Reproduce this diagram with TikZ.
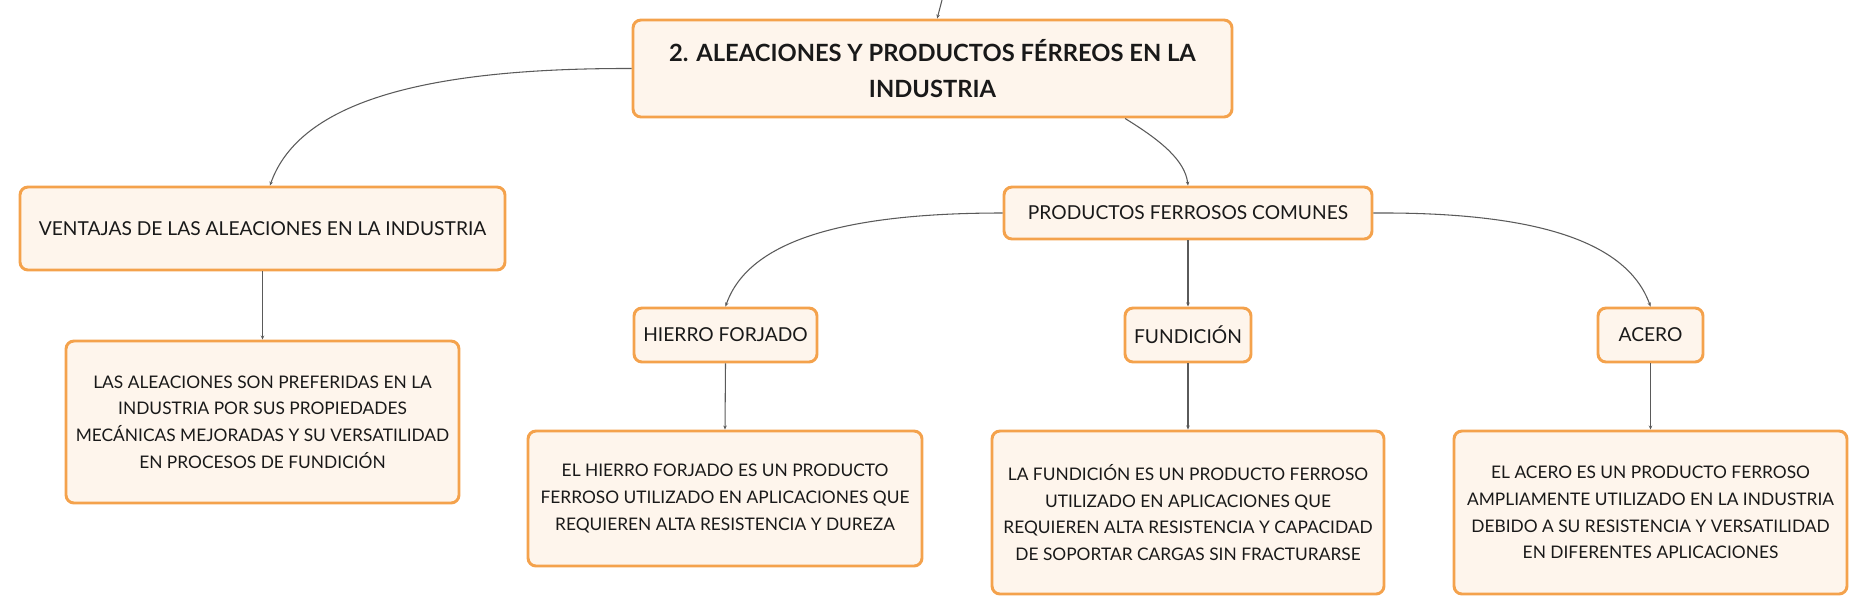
\documentclass[tikz,border=0pt]{standalone}
\usepackage{fontspec}
\setmainfont{Lato}
\usetikzlibrary{arrows.meta}
\definecolor{boxfill}{HTML}{FEF5EC}
\definecolor{boxline}{HTML}{F4A24C}
\definecolor{linkc}{HTML}{5A5A5A}
\begin{document}
\begin{tikzpicture}[x=0.75pt,y=-0.75pt,
  box/.style={draw=boxline, fill=boxfill, line width=2.2pt, rounded corners=6pt,
    align=center, inner sep=0pt, text=black!90},
  sz/.style 2 args={minimum width=#1*0.75pt, minimum height=#2*0.75pt},
  titlefont/.style={font=\fontsize{17.8}{27}\selectfont\bfseries},
  labfont/.style={font=\fontsize{14.4}{18}\selectfont},
  descfont/.style={font=\fontsize{13}{20}\selectfont},
  link/.style={draw=linkc, line width=0.8pt, -{Stealth[length=3pt,width=2.6pt]}}]
\useasboundingbox (0,0) rectangle (1867,615);

\node[box, titlefont, sz={599}{97}] (title) at (932.5,68.5)
  {2. ALEACIONES Y PRODUCTOS FÉRREOS EN LA\\INDUSTRIA};
\node[box, labfont, sz={485}{83}] (ventajas) at (262.5,228.5)
  {VENTAJAS DE LAS ALEACIONES EN LA INDUSTRIA};
\node[box, descfont, sz={393}{162}] (vdesc) at (262.5,422)
  {LAS ALEACIONES SON PREFERIDAS EN LA\\INDUSTRIA POR SUS PROPIEDADES\\MECÁNICAS MEJORADAS Y SU VERSATILIDAD\\EN PROCESOS DE FUNDICIÓN};
\node[box, labfont, sz={368}{52}] (productos) at (1188,213)
  {PRODUCTOS FERROSOS COMUNES};
\node[box, labfont, sz={183}{54}] (hierro) at (725.5,335) {HIERRO FORJADO};
\node[box, descfont, sz={394}{135}] (hdesc) at (725,498.5)
  {EL HIERRO FORJADO ES UN PRODUCTO\\FERROSO UTILIZADO EN APLICACIONES QUE\\REQUIEREN ALTA RESISTENCIA Y DUREZA};
\node[box, labfont, sz={126}{54}] (fund) at (1188,335) {FUNDICIÓN};
\node[box, descfont, sz={392}{163}] (fdesc) at (1188,512.5)
  {LA FUNDICIÓN ES UN PRODUCTO FERROSO\\UTILIZADO EN APLICACIONES QUE\\REQUIEREN ALTA RESISTENCIA Y CAPACIDAD\\DE SOPORTAR CARGAS SIN FRACTURARSE};
\node[box, labfont, sz={105}{54}] (acero) at (1650.5,335) {ACERO};
\node[box, descfont, sz={393}{163}] (adesc) at (1650.5,512.5)
  {EL ACERO ES UN PRODUCTO FERROSO\\AMPLIAMENTE UTILIZADO EN LA INDUSTRIA\\DEBIDO A SU RESISTENCIA Y VERSATILIDAD\\EN DIFERENTES APLICACIONES};

\coordinate (topin) at (942,0);
\draw[link] (topin) -- ([xshift=3.5pt]title.north);
\draw[link] (title.west) .. controls (430,68) and (300,100) .. ([xshift=5.6pt]ventajas.north);
\draw[link] ([xshift=144.4pt]title.south) .. controls (1160,140) and (1185,160) .. (productos.north);
\draw[link] (productos.west) .. controls (848,213) and (749,239) .. (hierro.north);
\draw[link] (productos.south) -- (fund.north);
\draw[link] (productos.east) .. controls (1527,212) and (1626,238) .. (acero.north);
\draw[link] (ventajas.south) -- (vdesc.north);
\draw[link] (hierro.south) -- (hdesc.north);
\draw[link] (fund.south) -- (fdesc.north);
\draw[link] (acero.south) -- (adesc.north);
\end{tikzpicture}
\end{document}
